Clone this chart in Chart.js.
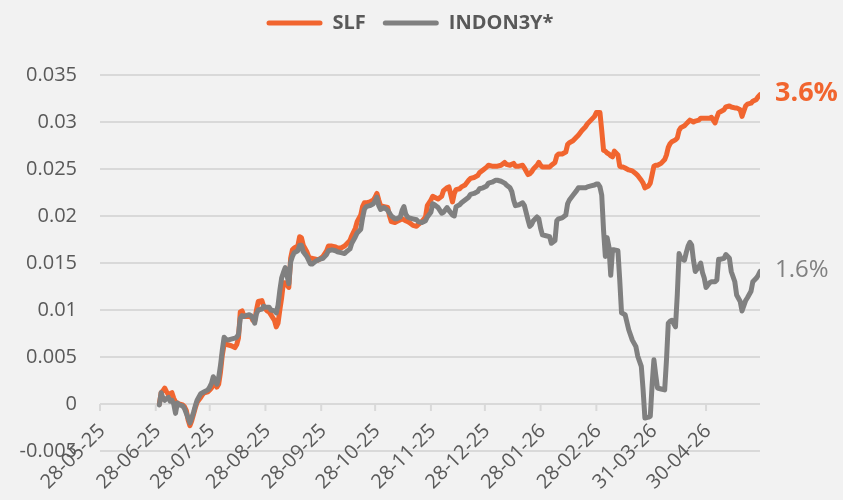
<!DOCTYPE html>
<html>
<head>
<meta charset="utf-8">
<script src="https://cdn.jsdelivr.net/npm/chart.js@4.4.1/dist/chart.umd.min.js"></script>
<style>
  html, body { margin: 0; padding: 0; background: #f2f2f2; }
  #wrap { width: 843px; height: 500px; position: relative; }
</style>
</head>
<body>
<div id="wrap"><canvas id="chart"></canvas></div>
<script>
// x values are days counted from 28-05-25
const tickDays = [0, 31, 61, 92, 123, 153, 184, 214, 245, 276, 307, 337];
const tickLabels = ["28-05-25", "28-06-25", "28-07-25", "28-08-25", "28-09-25", "28-10-25",
                    "28-11-25", "28-12-25", "28-01-26", "28-02-26", "31-03-26", "30-04-26"];
const yTicks = [-0.005, 0, 0.005, 0.01, 0.015, 0.02, 0.025, 0.03, 0.035];

const seriesNames = ["SLF", "INDON3Y*"];
const endLabels = ["3.6%", "1.6%"];

const days = [
  33, 34, 35, 36, 37, 38, 39, 40, 41, 42,
  43, 44, 46, 47, 48, 49, 50, 51, 52, 53,
  54, 56, 57, 58, 60, 61, 62, 63, 64, 65,
  66, 67, 68, 69, 70, 71, 73, 75, 76, 77,
  78, 79, 80, 81, 83, 84, 85, 86, 87, 88,
  90, 91, 92, 93, 94, 95, 97, 98, 99, 100,
  101, 102, 103, 105, 106, 107, 108, 110, 111, 112,
  113, 115, 116, 117, 118, 120, 121, 122, 124, 126,
  127, 129, 131, 132, 134, 136, 137, 139, 140, 142,
  143, 145, 146, 147, 148, 150, 152, 153, 154, 155,
  156, 158, 160, 161, 162, 164, 165, 167, 168, 169,
  170, 171, 172, 174, 176, 177, 179, 181, 182, 184,
  185, 186, 188, 190, 191, 193, 194, 196, 197, 198,
  200, 201, 203, 205, 206, 208, 210, 211, 213, 215,
  216, 218, 220, 221, 223, 225, 226, 228, 229, 230,
  231, 233, 235, 236, 238, 239, 240, 241, 243, 244,
  245, 246, 248, 250, 251, 253, 254, 255, 257, 259,
  260, 261, 263, 265, 266, 268, 270, 271, 273, 275,
  276, 277, 278, 279, 280, 281, 282, 283, 284, 285,
  286, 288, 289, 290, 291, 292, 293, 294, 296, 298,
  299, 301, 302, 303, 305, 306, 307, 308, 309, 310,
  312, 314, 315, 316, 317, 318, 320, 321, 322, 323,
  325, 326, 327, 328, 329, 330, 331, 333, 334, 335,
  336, 337, 339, 340, 342, 343, 344, 345, 347, 348,
  350, 351, 353, 354, 356, 357, 359, 360, 362, 363,
  365, 366, 367
];

const slf = [
  0.0000, 0.0012, 0.0014, 0.0017, 0.0013, 0.0010, 0.0011, 0.0012, 0.0006, 0.0002,
  0.0001, 0.0000, -0.0001, -0.0003, -0.0007, -0.0017, -0.0023, -0.0018, -0.0011, -0.0004,
  0.0002, 0.0007, 0.0010, 0.0012, 0.0013, 0.0015, 0.0017, 0.0020, 0.0022, 0.0018,
  0.0021, 0.0034, 0.0052, 0.0063, 0.0064, 0.0063, 0.0062, 0.0060, 0.0063, 0.0070,
  0.0098, 0.0099, 0.0094, 0.0093, 0.0093, 0.0093, 0.0089, 0.0088, 0.0100, 0.0109,
  0.0110, 0.0104, 0.0101, 0.0099, 0.0098, 0.0095, 0.0089, 0.0082, 0.0086, 0.0100,
  0.0113, 0.0129, 0.0129, 0.0124, 0.0155, 0.0164, 0.0166, 0.0168, 0.0178, 0.0177,
  0.0169, 0.0162, 0.0157, 0.0155, 0.0155, 0.0154, 0.0153, 0.0154, 0.0157, 0.0163,
  0.0168, 0.0168, 0.0167, 0.0166, 0.0166, 0.0168, 0.0170, 0.0174, 0.0179, 0.0187,
  0.0194, 0.0201, 0.0210, 0.0214, 0.0214, 0.0215, 0.0217, 0.0220, 0.0224, 0.0217,
  0.0211, 0.0210, 0.0209, 0.0200, 0.0194, 0.0193, 0.0194, 0.0196, 0.0197, 0.0196,
  0.0195, 0.0194, 0.0193, 0.0190, 0.0189, 0.0191, 0.0194, 0.0199, 0.0211, 0.0217,
  0.0221, 0.0220, 0.0218, 0.0221, 0.0227, 0.0230, 0.0231, 0.0215, 0.0224, 0.0228,
  0.0229, 0.0231, 0.0233, 0.0238, 0.0240, 0.0241, 0.0243, 0.0246, 0.0249, 0.0252,
  0.0254, 0.0253, 0.0253, 0.0253, 0.0254, 0.0257, 0.0255, 0.0254, 0.0255, 0.0256,
  0.0253, 0.0253, 0.0254, 0.0251, 0.0244, 0.0245, 0.0247, 0.0250, 0.0254, 0.0257,
  0.0254, 0.0252, 0.0252, 0.0252, 0.0254, 0.0257, 0.0264, 0.0266, 0.0266, 0.0268,
  0.0276, 0.0278, 0.0280, 0.0284, 0.0286, 0.0291, 0.0295, 0.0298, 0.0302, 0.0306,
  0.0310, 0.0310, 0.0310, 0.0291, 0.0270, 0.0269, 0.0267, 0.0266, 0.0264, 0.0263,
  0.0269, 0.0265, 0.0253, 0.0252, 0.0252, 0.0251, 0.0250, 0.0249, 0.0248, 0.0245,
  0.0243, 0.0238, 0.0235, 0.0230, 0.0232, 0.0235, 0.0244, 0.0253, 0.0254, 0.0254,
  0.0256, 0.0260, 0.0265, 0.0273, 0.0277, 0.0279, 0.0281, 0.0283, 0.0291, 0.0294,
  0.0296, 0.0298, 0.0300, 0.0302, 0.0301, 0.0300, 0.0301, 0.0302, 0.0304, 0.0304,
  0.0304, 0.0304, 0.0304, 0.0305, 0.0299, 0.0305, 0.0310, 0.0311, 0.0313, 0.0316,
  0.0317, 0.0316, 0.0315, 0.0315, 0.0313, 0.0306, 0.0317, 0.0319, 0.0320, 0.0322,
  0.0324, 0.0327, 0.0329
];

const indon = [
  -0.0001, 0.0012, 0.0006, 0.0004, 0.0006, 0.0007, 0.0003, 0.0004, 0.0000, -0.0010,
  0.0001, -0.0001, -0.0002, -0.0005, -0.0010, -0.0015, -0.0020, -0.0015, -0.0009, -0.0002,
  0.0004, 0.0011, 0.0012, 0.0013, 0.0015, 0.0018, 0.0022, 0.0029, 0.0026, 0.0021,
  0.0028, 0.0041, 0.0057, 0.0071, 0.0069, 0.0068, 0.0069, 0.0070, 0.0071, 0.0074,
  0.0091, 0.0094, 0.0093, 0.0094, 0.0095, 0.0094, 0.0091, 0.0086, 0.0096, 0.0100,
  0.0101, 0.0104, 0.0103, 0.0103, 0.0103, 0.0100, 0.0099, 0.0097, 0.0105, 0.0121,
  0.0134, 0.0140, 0.0145, 0.0128, 0.0151, 0.0157, 0.0161, 0.0163, 0.0169, 0.0169,
  0.0162, 0.0157, 0.0153, 0.0149, 0.0149, 0.0152, 0.0153, 0.0154, 0.0155, 0.0159,
  0.0163, 0.0164, 0.0163, 0.0162, 0.0161, 0.0160, 0.0162, 0.0165, 0.0171, 0.0178,
  0.0182, 0.0186, 0.0198, 0.0207, 0.0210, 0.0211, 0.0213, 0.0216, 0.0220, 0.0211,
  0.0207, 0.0209, 0.0206, 0.0203, 0.0200, 0.0197, 0.0197, 0.0199, 0.0206, 0.0210,
  0.0202, 0.0199, 0.0198, 0.0197, 0.0196, 0.0194, 0.0193, 0.0195, 0.0199, 0.0204,
  0.0213, 0.0212, 0.0209, 0.0203, 0.0204, 0.0209, 0.0206, 0.0201, 0.0200, 0.0210,
  0.0212, 0.0214, 0.0217, 0.0220, 0.0223, 0.0224, 0.0226, 0.0229, 0.0230, 0.0232,
  0.0235, 0.0236, 0.0238, 0.0238, 0.0237, 0.0235, 0.0233, 0.0230, 0.0226, 0.0217,
  0.0211, 0.0212, 0.0214, 0.0211, 0.0196, 0.0189, 0.0191, 0.0195, 0.0199, 0.0197,
  0.0187, 0.0180, 0.0179, 0.0178, 0.0171, 0.0174, 0.0195, 0.0197, 0.0198, 0.0201,
  0.0213, 0.0217, 0.0222, 0.0227, 0.0230, 0.0230, 0.0230, 0.0231, 0.0232, 0.0233,
  0.0234, 0.0234, 0.0231, 0.0222, 0.0185, 0.0157, 0.0177, 0.0167, 0.0137, 0.0164,
  0.0164, 0.0163, 0.0132, 0.0097, 0.0096, 0.0095, 0.0087, 0.0079, 0.0068, 0.0061,
  0.0051, 0.0040, 0.0015, -0.0015, -0.0014, -0.0013, 0.0020, 0.0047, 0.0031, 0.0017,
  0.0016, 0.0015, 0.0047, 0.0086, 0.0088, 0.0089, 0.0082, 0.0116, 0.0160, 0.0155,
  0.0153, 0.0161, 0.0168, 0.0172, 0.0169, 0.0153, 0.0141, 0.0146, 0.0150, 0.0140,
  0.0134, 0.0124, 0.0129, 0.0130, 0.0130, 0.0132, 0.0154, 0.0154, 0.0155, 0.0159,
  0.0155, 0.0141, 0.0130, 0.0116, 0.0109, 0.0099, 0.0110, 0.0113, 0.0120, 0.0130,
  0.0134, 0.0137, 0.0141
];

const ORANGE = "#f1652f";
const GREY = "#808080";
const TEXT = "#595959";
const GRID = "#d9d9d9";
const FONT = "'Open Sans', sans-serif";

Chart.defaults.font.family = FONT;
Chart.defaults.color = TEXT;

// small tick marks under the zero line + rotated date labels
// (drawn here because the labels reach up into the plot area)
const dateAxis = {
  id: "dateAxis",
  beforeDatasetsDraw(chart) {
    const { ctx, scales: { x, y } } = chart;
    const y0 = y.getPixelForValue(0);
    ctx.save();
    ctx.strokeStyle = GRID;
    ctx.lineWidth = 2;
    tickDays.forEach(d => {
      const px = x.getPixelForValue(d);
      ctx.beginPath();
      ctx.moveTo(px, y0);
      ctx.lineTo(px, y0 + 7);
      ctx.stroke();
    });
    ctx.fillStyle = TEXT;
    ctx.font = "20px " + FONT;
    ctx.textAlign = "right";
    ctx.textBaseline = "middle";
    tickDays.forEach((d, i) => {
      const px = x.getPixelForValue(d);
      ctx.save();
      ctx.translate(px + 2, 428);
      ctx.rotate(-Math.PI / 4);
      ctx.fillText(tickLabels[i], 0, 0);
      ctx.restore();
    });
    ctx.restore();
  }
};

// value labels at the end of each line
const endLabelFonts = ["bold 27px " + FONT, "24px " + FONT];
const endLabelPlugin = {
  id: "endLabels",
  afterDatasetsDraw(chart) {
    const ctx = chart.ctx;
    chart.data.datasets.forEach((ds, i) => {
      const pts = chart.getDatasetMeta(i).data;
      const last = pts[pts.length - 1];
      ctx.save();
      ctx.font = endLabelFonts[i];
      ctx.fillStyle = ds.borderColor;
      ctx.textAlign = "left";
      ctx.textBaseline = "middle";
      ctx.fillText(endLabels[i], last.x + 15, last.y - 1);
      ctx.restore();
    });
  }
};

function makeSeries(values) {
  return days.map((d, i) => ({ x: d, y: values[i] }));
}

const lineStyle = {
  borderWidth: 5,
  pointRadius: 0,
  tension: 0,
  fill: false,
  borderJoinStyle: "round",
  borderCapStyle: "round"
};

new Chart(document.getElementById("chart"), {
  type: "line",
  data: {
    datasets: [
      Object.assign({ label: seriesNames[0], data: makeSeries(slf), borderColor: ORANGE, backgroundColor: ORANGE, order: 1 }, lineStyle),
      Object.assign({ label: seriesNames[1], data: makeSeries(indon), borderColor: GREY, backgroundColor: GREY, order: 0 }, lineStyle)
    ]
  },
  options: {
    responsive: true,
    maintainAspectRatio: false,
    animation: false,
    events: [],
    layout: { padding: { top: -4, left: 0, right: 23, bottom: 0 } },
    scales: {
      x: {
        type: "linear",
        min: 0,
        max: 367,
        grid: { display: false },
        border: { display: false },
        ticks: { display: false },
        afterFit: s => { s.height = 49; }
      },
      y: {
        min: -0.005,
        max: 0.035,
        afterBuildTicks: s => { s.ticks = yTicks.map(v => ({ value: v })); },
        afterFit: s => { s.width = 100; },
        grid: { color: GRID, lineWidth: 2, drawTicks: false },
        border: { display: false },
        ticks: {
          padding: 23,
          color: TEXT,
          font: { size: 20 },
          callback: v => String(parseFloat(Number(v).toFixed(3)))
        }
      },
      // empty right-hand axis: keeps room for the end labels
      yRight: {
        position: "right",
        grid: { display: false, drawTicks: false },
        border: { display: false },
        ticks: { display: false },
        afterFit: s => { s.width = 60; }
      }
    },
    plugins: {
      tooltip: { enabled: false },
      legend: {
        position: "top",
        weight: 3000,
        labels: {
          boxWidth: 56,
          boxHeight: 5,
          padding: 17,
          color: TEXT,
          font: { size: 20, weight: "bold" },
          useBorderRadius: true,
          borderRadius: 2.5,
          sort: (a, b) => a.datasetIndex - b.datasetIndex,
          generateLabels: chart =>
            Chart.defaults.plugins.legend.labels.generateLabels(chart)
              .map(l => Object.assign(l, { lineWidth: 0 }))
        }
      },
      // empty title used only as a spacer under the legend
      title: {
        display: true,
        text: "",
        padding: { top: 0, bottom: 22 },
        font: { size: 10, lineHeight: 1 }
      }
    }
  },
  plugins: [dateAxis, endLabelPlugin]
});
</script>
</body>
</html>
